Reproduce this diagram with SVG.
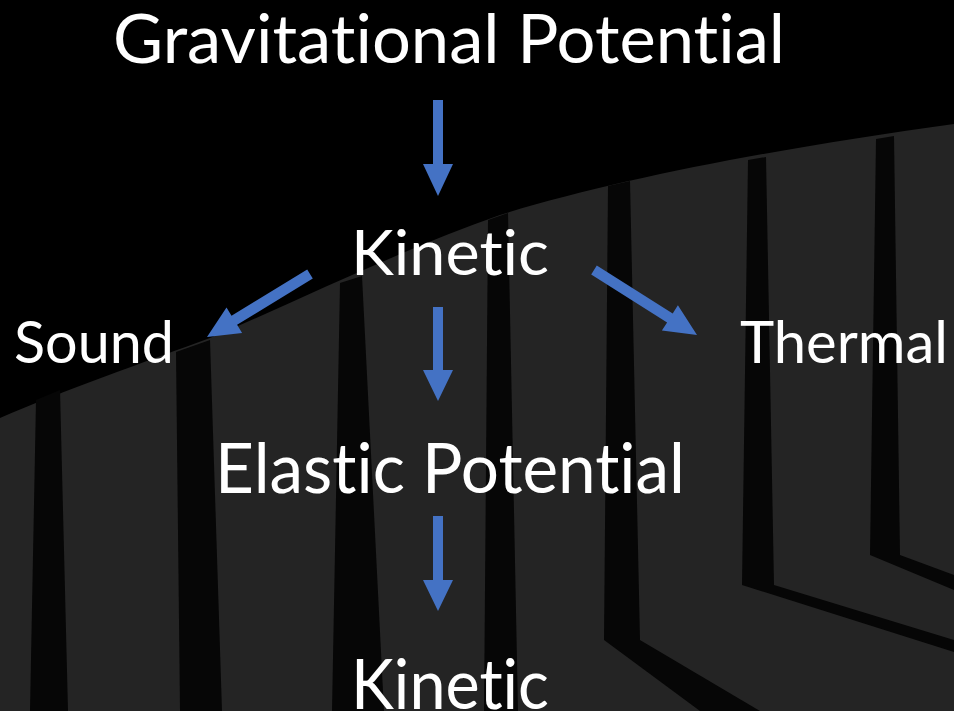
<svg xmlns="http://www.w3.org/2000/svg" width="954" height="711" viewBox="0 0 954 711">
<defs>
<style>
.bg{fill:#000}
.slab{fill:#242424}
.gap{fill:#060606}
.arrow{fill:#4472C4}
.label{fill:#fff;font-family:Lato,"Open Sans","Liberation Sans",sans-serif;font-variant-ligatures:none;font-feature-settings:"liga" 0,"clig" 0,"dlig" 0}
</style>
</defs>
<rect class="bg" x="0" y="0" width="954" height="711"/>
<g id="background">
<path class="slab" d="M0,418 C60,392 150,360 210,338 C300,300 400,250 500,215 C620,178 780,148 954,124 L954,711 L0,711 Z"/>
<polygon class="gap" points="36,400 60,390 68,711 30,711"/>
<polygon class="gap" points="176,352 210,340 222,711 180,711"/>
<polygon class="gap" points="340,283 362,276 384,711 332,711"/>
<polygon class="gap" points="488,220 508,213 518,711 484,711"/>
<polygon class="gap" points="608,186 630,181 640,640 604,640"/>
<polygon class="gap" points="748,160 766,157 774,585 742,585"/>
<polygon class="gap" points="876,139 894,136 900,555 870,555"/>
<polygon class="gap" points="742,585 774,585 954,640 954,652"/>
<polygon class="gap" points="870,555 900,555 954,575 954,590"/>
<polygon class="gap" points="604,640 640,640 760,711 700,711"/>
</g>
<g id="connectors">
<polygon class="arrow" points="433,100 443,100 443,164 453,164 438,196 423,164 433,164"/>
<polygon class="arrow" points="433,307 443,307 443,370 453,370 438,401 423,370 433,370"/>
<polygon class="arrow" points="433,516 443,516 443,580 453,580 438,611 423,580 433,580"/>
<polygon class="arrow" points="307.2,269.5 312.8,278.5 237.1,324.8 242.1,333.1 207,337 226.5,307.5 231.5,315.8"/>
<polygon class="arrow" points="596.8,265.5 672.7,313.4 677.9,305.2 697,335 661.9,330.6 667.1,322.4 591.2,274.5"/>
</g>
<g id="node-gravitational">
<text class="label" x="113" y="63" font-size="67" textLength="672" lengthAdjust="spacingAndGlyphs">Gravitational Potential</text>
</g>
<g id="node-kinetic1">
<text class="label" x="351" y="275" font-size="61" textLength="198" lengthAdjust="spacingAndGlyphs">Kinetic</text>
</g>
<g id="node-sound">
<text class="label" x="14" y="363" font-size="58" textLength="160" lengthAdjust="spacingAndGlyphs">Sound</text>
</g>
<g id="node-thermal">
<text class="label" x="740" y="363" font-size="58" textLength="208" lengthAdjust="spacingAndGlyphs">Thermal</text>
</g>
<g id="node-elastic">
<text class="label" x="215" y="493" font-size="69" textLength="470" lengthAdjust="spacingAndGlyphs">Elastic Potential</text>
</g>
<g id="node-kinetic2">
<text class="label" x="351" y="709" font-size="69" textLength="198" lengthAdjust="spacingAndGlyphs">Kinetic</text>
</g>
</svg>
